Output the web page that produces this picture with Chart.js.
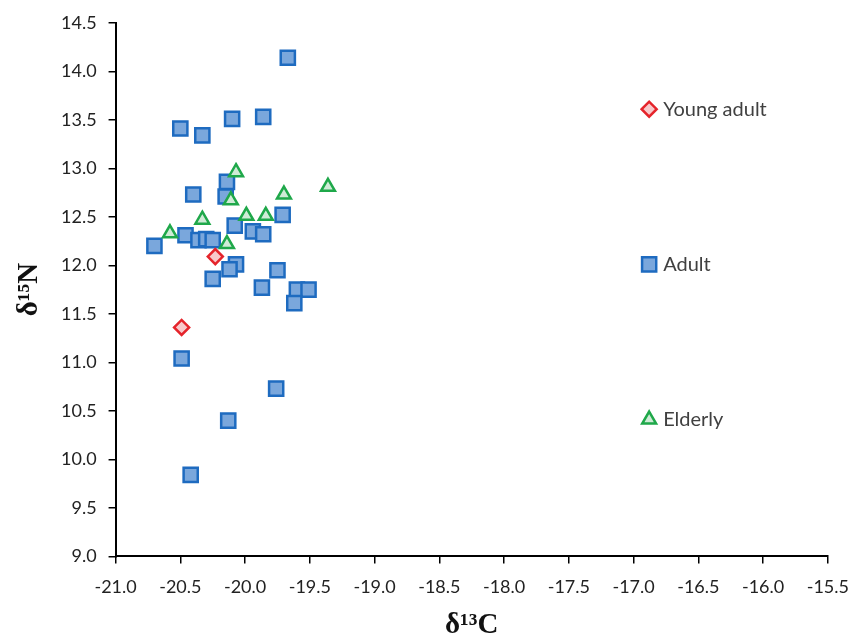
<!DOCTYPE html>
<html>
<head>
<meta charset="utf-8">
<script src="https://cdn.jsdelivr.net/npm/chart.js@4/dist/chart.umd.min.js"></script>
<style>
  html, body { margin: 0; padding: 0; background: #fff; }
  #wrap { width: 862px; height: 640px; }
</style>
</head>
<body>
<div id="wrap"><canvas id="chart1"></canvas></div>
<script>
// delta 13C / delta 15N values
const youngC = [-20.23, -20.49];
const youngN = [12.09, 11.36];

const adultC = [-19.67, -20.50, -20.33, -20.10, -19.86, -20.14, -20.40, -20.15, -19.71, -20.08,
  -20.46, -20.70, -20.36, -20.30, -20.25, -19.94, -19.86, -20.07, -20.12, -19.75,
  -20.25, -19.87, -19.60, -19.51, -19.62, -20.49, -19.76, -20.13, -20.42];
const adultN = [14.14, 13.41, 13.34, 13.51, 13.53, 12.86, 12.73, 12.71, 12.52, 12.41,
  12.31, 12.20, 12.26, 12.27, 12.26, 12.35, 12.32, 12.01, 11.96, 11.95,
  11.86, 11.77, 11.75, 11.75, 11.61, 11.04, 10.73, 10.40, 9.84];

const elderC = [-20.07, -19.36, -19.70, -20.11, -19.99, -19.84, -20.33, -20.58, -20.14];
const elderN = [12.96, 12.81, 12.73, 12.67, 12.51, 12.51, 12.47, 12.33, 12.22];

// labelled key points drawn inside the plot
const keyNames = ["Young adult", "Adult", "Elderly"];
const keyC = [-16.88, -16.88, -16.88];
const keyN = [13.61, 12.01, 10.41];

function pts(xs, ys) {
  return xs.map((x, i) => ({ x: x, y: ys[i] }));
}

const red = "#E5242B", blue = "#1E6BC0", green = "#1FA84A";

const data1 = {
  datasets: [
    {
      label: "Elderly",
      data: pts(elderC, elderN).concat([{ x: keyC[2], y: keyN[2] }]),
      pointStyle: "triangle",
      pointRadius: 8,
      borderColor: green,
      backgroundColor: "#CFEBD6",
      borderWidth: 2.5,
      order: 1,
    },
    {
      label: "Young adult",
      data: pts(youngC, youngN).concat([{ x: keyC[0], y: keyN[0] }]),
      pointStyle: "rectRot",
      pointRadius: 7.5,
      borderColor: red,
      backgroundColor: "#F8C9CB",
      borderWidth: 2.5,
      order: 2,
    },
    {
      label: "Adult",
      data: pts(adultC, adultN).concat([{ x: keyC[1], y: keyN[1] }]),
      pointStyle: "rect",
      pointRadius: 10,
      borderColor: blue,
      backgroundColor: "#7AA7DC",
      borderWidth: 2.5,
      order: 3,
    },
  ],
};

const keyLabels = {
  id: "keyLabels",
  afterDatasetsDraw(chart) {
    const ctx = chart.ctx;
    const xs = chart.scales.x, ys = chart.scales.y;
    ctx.save();
    ctx.font = "20px Lato";
    ctx.fillStyle = "#404040";
    ctx.textAlign = "left";
    ctx.textBaseline = "middle";
    keyNames.forEach((n, i) => {
      ctx.fillText(n, xs.getPixelForValue(keyC[i]) + 14, ys.getPixelForValue(keyN[i]));
    });
    ctx.restore();
  },
};

const tickFont = { family: "Lato", size: 18 };
const titleFont = { family: "'Liberation Serif', 'Times New Roman', serif", size: 29, weight: "bold", lineHeight: 1 };

const config1 = {
  type: "scatter",
  data: data1,
  plugins: [keyLabels],
  options: {
    responsive: true,
    maintainAspectRatio: false,
    animation: false,
    layout: { padding: { top: 13, right: 23, left: 15, bottom: 0 } },
    plugins: { legend: { display: false }, tooltip: { enabled: false } },
    scales: {
      x: {
        min: -21,
        max: -15.5,
        ticks: {
          stepSize: 0.5,
          color: "#222",
          font: tickFont,
          padding: 13,
          callback: (v) => v.toFixed(1),
        },
        grid: { drawOnChartArea: false, color: "#000", tickLength: 7, lineWidth: 1.5 },
        border: { color: "#000", width: 2 },
        title: { display: true, text: "δ¹³C", color: "#111", font: titleFont, padding: { top: 0, bottom: 0 } },
      },
      y: {
        min: 9,
        max: 14.5,
        ticks: {
          stepSize: 0.5,
          color: "#222",
          font: tickFont,
          padding: 12,
          callback: (v) => v.toFixed(1),
        },
        grid: { drawOnChartArea: false, color: "#000", tickLength: 7, lineWidth: 1.5 },
        border: { color: "#000", width: 2 },
        title: { display: true, text: "δ¹⁵N", color: "#111", font: titleFont, padding: { top: 0, bottom: 5 } },
      },
    },
  },
};
const myChart = new Chart(document.getElementById("chart1"), config1);
</script>
</body>
</html>
